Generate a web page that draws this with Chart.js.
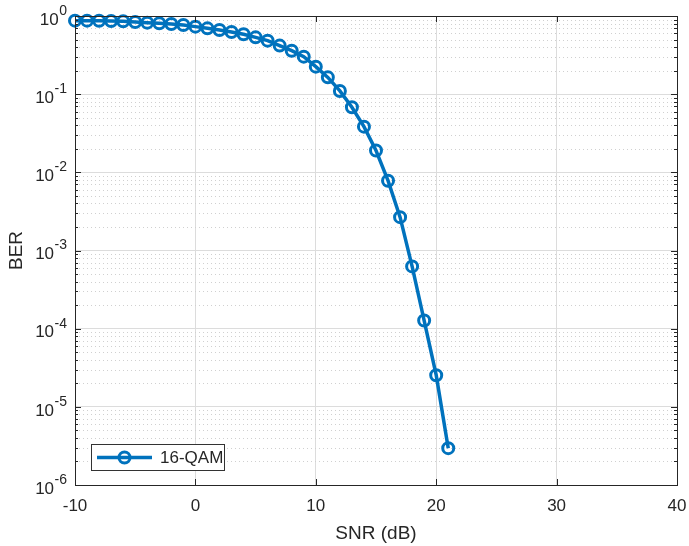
<!DOCTYPE html>
<html>
<head>
<meta charset="utf-8">
<script src="https://cdn.jsdelivr.net/npm/chart.js@4/dist/chart.umd.min.js"></script>
<style>
  html, body { margin: 0; padding: 0; background: #ffffff; }
  #wrap { width: 689px; height: 546px; }
</style>
</head>
<body>
<div id="wrap"><canvas id="c" width="689" height="546"></canvas></div>
<script>
// ---- data ----
const snrDb = [-10, -9, -8, -7, -6, -5, -4, -3, -2, -1, 0, 1, 2, 3, 4, 5, 6, 7, 8, 9, 10,
               11, 12, 13, 14, 15, 16, 17, 18, 19, 20, 21];
const berValues = [0.872, 0.872, 0.870, 0.863, 0.855, 0.838, 0.822, 0.806, 0.790, 0.767, 0.731,
                   0.695, 0.662, 0.624, 0.583, 0.533, 0.484, 0.418, 0.360, 0.302, 0.225,
                   0.164, 0.110, 0.068, 0.0384, 0.0190, 0.00782, 0.00267, 6.26e-4, 1.27e-4,
                   2.54e-5, 2.96e-6];
const seriesLabel = '16-QAM';
const xTickValues = [-10, 0, 10, 20, 30, 40];
const yTickExponents = [0, -1, -2, -3, -4, -5, -6];
const xTitle = 'SNR (dB)';
const yTitle = 'BER';

const FONT = "'Liberation Sans', Arial, sans-serif";
const TXT = '#262626';
const BLUE = '#0072BD';

const points = snrDb.map((x, i) => ({ x: x, y: berValues[i] }));

const matlabAxes = {
  id: 'matlabAxes',
  beforeDatasetsDraw(chart) {
    const ctx = chart.ctx, a = chart.chartArea, ys = chart.scales.y;
    ctx.save();
    // minor dotted grid lines
    ctx.strokeStyle = '#d0d0d0';
    ctx.lineWidth = 1;
    ctx.setLineDash([1, 3]);
    yTickExponents.forEach(e => {
      if (e === 0) return;
      for (let m = 2; m <= 9; m++) {
        const py = Math.round(ys.getPixelForValue(m * Math.pow(10, e))) + 0.5;
        ctx.beginPath(); ctx.moveTo(a.left, py); ctx.lineTo(a.right, py); ctx.stroke();
      }
    });
    ctx.restore();
  },
  afterDatasetsDraw(chart) {
    const ctx = chart.ctx, a = chart.chartArea, xs = chart.scales.x, ys = chart.scales.y;
    ctx.save();
    ctx.strokeStyle = TXT;
    ctx.lineWidth = 1;
    ctx.setLineDash([]);
    // box
    ctx.strokeRect(Math.round(a.left) + 0.5, Math.round(a.top) + 0.5,
                   Math.round(a.right - a.left), Math.round(a.bottom - a.top));
    // x ticks (inward, bottom and top)
    xTickValues.forEach(v => {
      const px = Math.round(xs.getPixelForValue(v)) + 0.5;
      ctx.beginPath();
      ctx.moveTo(px, a.bottom); ctx.lineTo(px, a.bottom - 6);
      ctx.moveTo(px, a.top); ctx.lineTo(px, a.top + 6);
      ctx.stroke();
    });
    // y ticks major and minor (inward, left and right)
    yTickExponents.forEach(e => {
      const py = Math.round(ys.getPixelForValue(Math.pow(10, e))) + 0.5;
      ctx.beginPath();
      ctx.moveTo(a.left, py); ctx.lineTo(a.left + 6, py);
      ctx.moveTo(a.right, py); ctx.lineTo(a.right - 6, py);
      ctx.stroke();
      if (e === 0) return;
      for (let m = 2; m <= 9; m++) {
        const my = Math.round(ys.getPixelForValue(m * Math.pow(10, e))) + 0.5;
        ctx.beginPath();
        ctx.moveTo(a.left, my); ctx.lineTo(a.left + 3, my);
        ctx.moveTo(a.right, my); ctx.lineTo(a.right - 3, my);
        ctx.stroke();
      }
    });
    // y tick labels with superscript exponents
    ctx.fillStyle = TXT;
    yTickExponents.forEach(e => {
      const py = ys.getPixelForValue(Math.pow(10, e));
      const expStr = String(e);
      ctx.font = '14px ' + FONT;
      const wExp = ctx.measureText(expStr).width;
      const right = a.left - 8;
      ctx.textBaseline = 'middle';
      ctx.textAlign = 'left';
      ctx.fillText(expStr, right - wExp, py - 5);
      ctx.font = '17px ' + FONT;
      ctx.textAlign = 'right';
      ctx.fillText('10', right - wExp - 0.5, py + 4);
    });
    // legend
    const lx = a.left + 16, ly = a.bottom - 41, lw = 133, lh = 26;
    ctx.fillStyle = '#ffffff';
    ctx.fillRect(lx, ly, lw, lh);
    ctx.strokeStyle = '#333333';
    ctx.strokeRect(lx + 0.5, ly + 0.5, lw, lh);
    const ds = chart.data.datasets[0];
    const cy = ly + lh / 2 + 0.5;
    ctx.strokeStyle = ds.borderColor;
    ctx.lineWidth = ds.borderWidth;
    ctx.beginPath(); ctx.moveTo(lx + 6, cy); ctx.lineTo(lx + 61, cy); ctx.stroke();
    ctx.lineWidth = ds.pointBorderWidth;
    ctx.beginPath(); ctx.arc(lx + 33.5, cy, ds.pointRadius, 0, Math.PI * 2); ctx.stroke();
    ctx.fillStyle = TXT;
    ctx.font = '17px ' + FONT;
    ctx.textAlign = 'left';
    ctx.textBaseline = 'middle';
    ctx.fillText(ds.label, lx + 69, cy + 1);
    ctx.restore();
  }
};

new Chart(document.getElementById('c'), {
  type: 'line',
  data: {
    datasets: [{
      label: seriesLabel,
      data: points,
      borderColor: BLUE,
      borderWidth: 3.5,
      pointRadius: 5.5,
      pointHoverRadius: 5.5,
      pointBorderWidth: 3,
      pointBorderColor: BLUE,
      pointBackgroundColor: 'rgba(0,0,0,0)',
      tension: 0,
      clip: false
    }]
  },
  options: {
    responsive: false,
    animation: false,
    devicePixelRatio: 1,
    layout: { padding: { top: 16, right: 12, left: 0, bottom: 0 } },
    plugins: { legend: { display: false }, tooltip: { enabled: false } },
    scales: {
      x: {
        type: 'linear',
        min: -10, max: 40,
        afterBuildTicks: s => { s.ticks = xTickValues.map(v => ({ value: v })); },
        afterFit: s => { s.height = 61; s.paddingLeft = 0; s.paddingRight = 0; },
        grid: { color: '#dcdcdc', lineWidth: 1, drawTicks: false },
        border: { display: false },
        ticks: { color: TXT, font: { family: FONT, size: 17 }, padding: 11, maxRotation: 0 },
        title: { display: true, text: xTitle, color: TXT, font: { family: FONT, size: 19 },
                 padding: { top: 0, bottom: 1 } }
      },
      y: {
        type: 'logarithmic',
        min: 1e-6, max: 1,
        afterBuildTicks: s => { s.ticks = yTickExponents.map(e => ({ value: Math.pow(10, e) })); },
        afterFit: s => { s.width = 75; s.paddingTop = 0; s.paddingBottom = 0; },
        grid: { color: '#dcdcdc', lineWidth: 1, drawTicks: false },
        border: { display: false },
        ticks: { callback: () => '', padding: 0 },
        title: { display: true, text: yTitle, color: TXT, font: { family: FONT, size: 19 },
                 padding: { top: 5, bottom: 0 } }
      }
    }
  },
  plugins: [matlabAxes]
});
</script>
</body>
</html>
